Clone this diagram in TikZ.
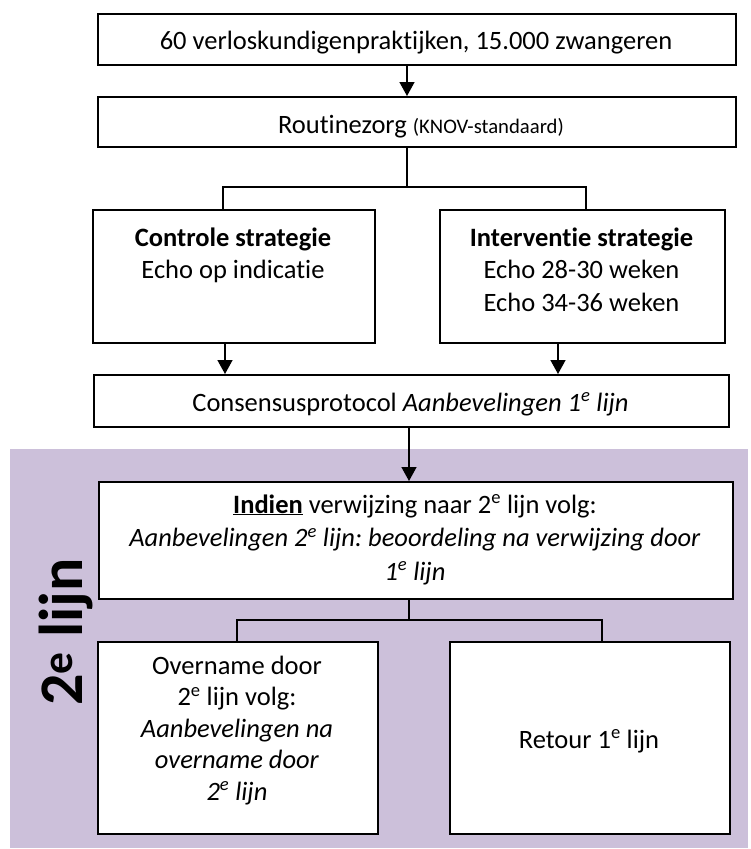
\documentclass[tikz,border=0pt]{standalone}
\usepackage{fontspec}
\setmainfont{Carlito}[Ligatures={NoCommon,NoContextual}]
\usetikzlibrary{arrows.meta}
\definecolor{lila}{HTML}{CCC0DA}
\frenchspacing
\newcommand\lines[2]{\fontsize{26.5}{#1}\selectfont\begin{tabular}[t]{@{}c@{}}#2\end{tabular}}
\begin{document}
\begin{tikzpicture}[x=1pt,y=-1pt,
  box/.style={draw, line width=1.5pt, fill=white, inner sep=0pt, anchor=north west},
  txt/.style={inner sep=0pt, anchor=base, font=\fontsize{26.5}{32.5}\selectfont},
  link/.style={line width=1.5pt},
  arr/.style={line width=1.5pt, -{Triangle[width=15pt,length=14pt]}},
]
\useasboundingbox (0,0) rectangle (750,849);
\fill[lila] (10,449) rectangle (748,848);

% boxes
\node[box, minimum width=638pt, minimum height=51pt] (b1) at (97,13) {};
\node[box, minimum width=638pt, minimum height=50pt] (b2) at (97,96) {};
\node[box, minimum width=282pt, minimum height=133pt] (L) at (92,209) {};
\node[box, minimum width=285pt, minimum height=133pt] (R) at (439,209) {};
\node[box, minimum width=635pt, minimum height=52pt] (C) at (93,374) {};
\node[box, minimum width=634pt, minimum height=117pt] (I) at (98,481) {};
\node[box, minimum width=280pt, minimum height=192pt] (BL) at (97,641) {};
\node[box, minimum width=280pt, minimum height=192pt] (BR) at (449,641) {};

% texts
\node[txt] (t1) at (416,49) {60 verloskundigenpraktijken, 15.000 zwangeren};
\node[txt] (t2) at (421,133) {Routinezorg {\fontsize{20.7}{24}\selectfont(KNOV-standaard)}};
\node[txt] (tL) at (233,246) {\lines{32.5}{\textbf{Controle strategie}\\Echo op indicatie}};
\node[txt] (tR) at (581.5,246) {\lines{32.5}{\textbf{Interventie strategie}\\Echo 28-30 weken\\Echo 34-36 weken}};
\node[txt] (tC) at (410.5,411) {Consensusprotocol \textit{Aanbevelingen 1\textsuperscript{e} lijn}};
\node[txt] (tI) at (415,513) {\lines{33.5}{\underline{\textbf{Indien}} verwijzing naar 2\textsuperscript{e} lijn volg:\\\textit{Aanbevelingen 2\textsuperscript{e} lijn: beoordeling na verwijzing door}\\\textit{1\textsuperscript{e} lijn}}};
\node[txt] (tBL) at (237,674) {\lines{31.5}{Overname door\\2\textsuperscript{e} lijn volg:\\\textit{Aanbevelingen na}\\\textit{overname door}\\\textit{2\textsuperscript{e} lijn}}};
\node[txt] (tBR) at (589,748) {Retour 1\textsuperscript{e} lijn};
\node[inner sep=0pt, anchor=base, rotate=90, font=\bfseries\fontsize{62}{62}\selectfont] (lbl) at (82,632) {2\textsuperscript{e} lijn};

% connectors
\coordinate (xa) at (407,0);
\coordinate (j1) at (223,187);
\coordinate (j2) at (586,187);
\coordinate (xl) at (225,0);
\coordinate (xr) at (558,0);
\coordinate (xc) at (409,0);
\coordinate (k1) at (237,620);
\coordinate (k2) at (602,620);
\draw[arr] (b1.south -| xa) -- (b2.north -| xa);
\draw[link] (b2.south -| xa) -- (j1 -| xa);
\draw[link] (L.north -| j1) -- (j1) -- (j2) -- (R.north -| j2);
\draw[arr] (L.south -| xl) -- (C.north -| xl);
\draw[arr] (R.south -| xr) -- (C.north -| xr);
\draw[arr] (C.south -| xc) -- (I.north -| xc);
\draw[link] (I.south -| xc) -- (k1 -| xc);
\draw[link] (BL.north -| k1) -- (k1) -- (k2) -- (BR.north -| k2);
\end{tikzpicture}
\end{document}
